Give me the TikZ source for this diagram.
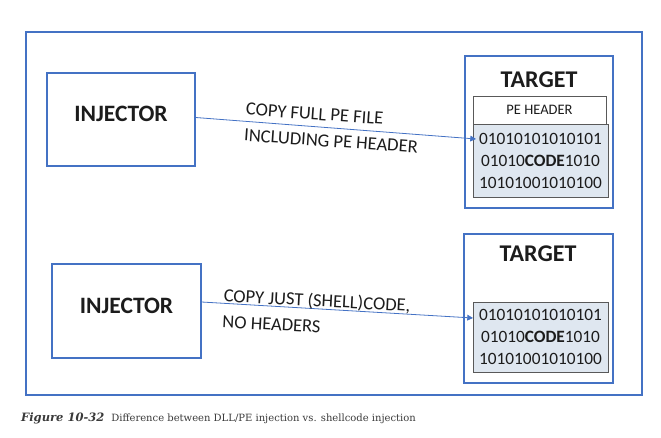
\documentclass[tikz,border=0pt]{standalone}
\usepackage{fontspec}
\setmainfont{Carlito}
\newfontfamily\capfont{DejaVu Serif}
\usetikzlibrary{arrows.meta}
\definecolor{pjblue}{HTML}{4472C4}
\definecolor{pjcode}{HTML}{DFE7F0}
\definecolor{pjgrey}{HTML}{595959}
\definecolor{pjink}{HTML}{1C1C1C}
\definecolor{pjcap}{HTML}{3A3A3A}
\tikzset{
  frame/.style={rectangle,draw=pjblue,line width=1.1pt,inner sep=0pt},
  proc/.style={frame,font=\fontsize{23.5}{26}\selectfont\bfseries,text=pjink,text depth=11pt},
  hdr/.style={rectangle,draw=pjgrey,line width=.8pt,fill=white,inner sep=0pt,font=\fontsize{14.5}{16}\selectfont,text=pjink},
  code/.style={rectangle,draw=pjgrey,line width=.8pt,fill=pjcode,inner sep=0pt,align=center,font=\fontsize{17.3}{22}\selectfont,text=pjink},
  title/.style={font=\fontsize{24}{26}\selectfont\bfseries,text=pjink},
  copy/.style={-{Triangle[length=2mm,width=2mm]},draw=pjblue,line width=.8pt},
  label/.style={font=\fontsize{18.5}{26}\selectfont,text=pjink,align=left,inner sep=0pt},
}
\newcommand{\bits}{01010101010101\\01010\textbf{CODE}1010\\10101001010100}

\begin{document}
\begin{tikzpicture}[x=1pt,y=-1pt]
  \useasboundingbox (0,0) rectangle (661,438);
  \node[frame,minimum width=616pt,minimum height=363pt] (outer) at (334,213.5) {};

  % ---- top: full PE file ----
  \node[proc,minimum width=148pt,minimum height=93pt] (inj1) at (121,119.5) {INJECTOR};
  \node[frame,minimum width=148pt,minimum height=152pt] (tgt1) at (539,132) {};
  \node[title] (tt1) at (539,80) {TARGET};
  \node[hdr,minimum width=133pt,minimum height=28pt] (peh) at (539.5,110) {PE HEADER};
  \node[code,minimum width=135pt,minimum height=73pt] (code1) at (540.5,160.5) {\bits};
  \coordinate (tip1) at (476,139);
  \draw[copy] ([yshift=2pt]inj1.east) -- (tip1);
  \node[label,rotate=-4,anchor=west] (lbl1) at (245,122) {COPY FULL PE FILE\\INCLUDING PE HEADER};

  % ---- bottom: shellcode only ----
  \node[proc,minimum width=149pt,minimum height=94pt] (inj2) at (126.5,311) {INJECTOR};
  \node[frame,minimum width=149pt,minimum height=149pt] (tgt2) at (538.5,308.5) {};
  \node[title] (tt2) at (538,254) {TARGET};
  \node[code,minimum width=135pt,minimum height=70pt] (code2) at (540.5,337) {\bits};
  \coordinate (tip2) at (473,318);
  \draw[copy] ([yshift=9pt]inj2.east) -- (tip2);
  \node[label,rotate=-3,anchor=west] (lbl2) at (223,308) {COPY JUST (SHELL)CODE,\\NO HEADERS};

  \node[anchor=west,inner sep=0pt,text=pjcap] (cap) at (21,418)
    {\capfont\fontsize{11.5}{13}\selectfont\bfseries\itshape Figure 10-32\hspace{7pt}\fontsize{10}{12}\selectfont\mdseries\upshape Difference between DLL/PE injection vs. shellcode injection};
\end{tikzpicture}
\end{document}
